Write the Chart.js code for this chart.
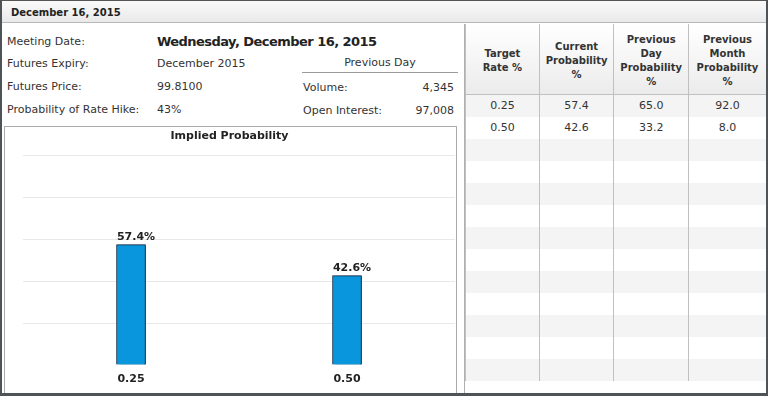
<!DOCTYPE html>
<html>
<head>
<meta charset="utf-8">
<script src="https://cdn.jsdelivr.net/npm/chart.js@4"></script>
<style>
    body { margin: 0; background: #fff; font-family: "DejaVu Sans", Verdana, sans-serif; color: #333; }
    #wrap { position: relative; width: 768px; height: 396px; box-sizing: border-box; border: 1px solid #555; border-left: 2px solid #4d5356; border-bottom: 3px solid #4d5356; border-right: 2px solid #4d5356; overflow: hidden; }
    #head { position: absolute; left: 0; top: 0; width: 766px; height: 22px; border-bottom: 1px solid #b8b8b8; background: linear-gradient(#fafafa, #e9e9e9); font-weight: bold; font-size: 10px; line-height: 24px; padding-left: 9px; box-sizing: border-box; color: #222; }
    .t { position: absolute; font-size: 11px; white-space: nowrap; line-height: 14px; }
    .r { text-align: right; }
    #meet { font-size: 13px; letter-spacing: -0.55px; font-weight: bold; color: #222; line-height: 18px; }
    #prev { position: absolute; left: 300px; top: 55px; width: 156px; height: 16px; border-bottom: 1px solid #9a9a9a; text-align: center; font-size: 11px; line-height: 14px; }
    #left { position: absolute; left: 462px; top: 23px; width: 1px; height: 370px; background: #b0b0b0; }
    #box { position: absolute; left: 2px; top: 125px; width: 453px; height: 270px; border: 1px solid #aaa; border-bottom: none; box-sizing: border-box; }
    #chartBox { position: absolute; left: 2px; top: 127px; width: 452px; height: 264px; }
    #tbl { position: absolute; left: 463px; top: 23px; border-collapse: collapse; font-size: 11px; table-layout: fixed; }
    #tbl th { height: 70px; box-sizing: border-box; padding: 5px 0 0 0; background: linear-gradient(#fff, #ebebeb); border-left: 1px solid #c0c0c0; border-bottom: 1px solid #c0c0c0; font-weight: bold; font-size: 10px; line-height: 14px; color: #333; }
    #tbl td { height: 22px; padding: 0; text-align: center; border-left: 1px solid #c0c0c0; color: #333; }
    #tbl tr:nth-child(odd) td { background: #f4f4f4; }
</style>
</head>
<body>
<div id="wrap">
    <div id="head">December 16, 2015</div>

    <div class="t" style="left:5px;top:34px">Meeting Date:</div>
    <div class="t" id="meet" style="left:155px;top:32px">Wednesday, December 16, 2015</div>
    <div class="t" style="left:5px;top:56px">Futures Expiry:</div>
    <div class="t" style="left:155px;top:56px">December 2015</div>
    <div class="t" style="left:5px;top:79px">Futures Price:</div>
    <div class="t" style="left:155px;top:79px">99.8100</div>
    <div class="t" style="left:5px;top:102px">Probability of Rate Hike:</div>
    <div class="t" style="left:155px;top:102px">43%</div>

    <div id="prev">Previous Day</div>
    <div class="t" style="left:301px;top:80px">Volume:</div>
    <div class="t r" style="left:380px;top:80px;width:72px">4,345</div>
    <div class="t" style="left:301px;top:103px">Open Interest:</div>
    <div class="t r" style="left:380px;top:103px;width:72px">97,008</div>

    <div id="box"></div>
    <div id="chartBox"><canvas id="probChart"></canvas></div>
    <div id="left"></div>

    <table id="tbl">
        <colgroup><col style="width:75px"><col style="width:75px"><col style="width:75px"><col style="width:78px"></colgroup>
        <thead><tr id="hdr"></tr></thead>
        <tbody id="rows"></tbody>
    </table>
</div>
<script>
// data
var targetRates = ['0.25', '0.50'];
var currentProb = [57.4, 42.6];
var prevDayProb = [65.0, 33.2];
var prevMonthProb = [92.0, 8.0];
var columnTitles = ['Target<br>Rate %', 'Current<br>Probability<br>%', 'Previous<br>Day<br>Probability<br>%', 'Previous<br>Month<br>Probability<br>%'];
var yMax = 100;
var yStep = 20;
var emptyRows = 11;

// table
var hdr = document.getElementById('hdr');
columnTitles.forEach(function(t) {
    var th = document.createElement('th');
    th.innerHTML = t;
    hdr.appendChild(th);
});
var rows = document.getElementById('rows');
for (var i = 0; i < targetRates.length + emptyRows; i++) {
    var tr = document.createElement('tr');
    var cells = i < targetRates.length
        ? [targetRates[i], currentProb[i].toFixed(1), prevDayProb[i].toFixed(1), prevMonthProb[i].toFixed(1)]
        : ['', '', '', ''];
    cells.forEach(function(c) {
        var td = document.createElement('td');
        td.textContent = c;
        tr.appendChild(td);
    });
    rows.appendChild(tr);
}

// bar labels + shadow
var barExtras = {
    id: 'barExtras',
    beforeDatasetsDraw: function(chart) {
        var ctx = chart.ctx;
        ctx.save();
        ctx.shadowColor = 'rgba(0,0,0,0.4)';
        ctx.shadowOffsetX = 3;
        ctx.shadowOffsetY = 1;
        ctx.shadowBlur = 2;
    },
    afterDatasetsDraw: function(chart) {
        var ctx = chart.ctx;
        ctx.restore();
        ctx.save();
        ctx.font = 'bold 11px "DejaVu Sans"';
        ctx.fillStyle = '#222';
        ctx.textAlign = 'center';
        ctx.textBaseline = 'bottom';
        chart.getDatasetMeta(0).data.forEach(function(bar, i) {
            ctx.fillText(currentProb[i].toFixed(1) + '%', bar.x + 5, bar.y - 2);
        });
        ctx.restore();
    }
};

var probChart = new Chart(document.getElementById('probChart').getContext('2d'), {
    type: 'bar',
    data: {
        labels: targetRates,
        datasets: [{
            data: currentProb,
            backgroundColor: '#0a96dc',
            borderColor: '#0b2540',
            borderWidth: 1,
            barThickness: 29
        }]
    },
    options: {
        responsive: true,
        maintainAspectRatio: false,
        animation: false,
        layout: { padding: { left: 0, right: 1, top: 0, bottom: 0 } },
        plugins: {
            legend: { display: false },
            tooltip: { enabled: false },
            title: {
                display: true,
                text: 'Implied Probability',
                color: '#222',
                font: { family: 'DejaVu Sans', size: 11, weight: 'bold' },
                padding: { top: 2, bottom: 12 }
            }
        },
        scales: {
            x: {
                grid: { display: false, drawTicks: false },
                border: { display: false },
                ticks: { color: '#222', padding: 8, font: { family: 'DejaVu Sans', size: 11, weight: 'bold' } },
                afterFit: function(s) { s.height = 27; }
            },
            y: {
                min: 0,
                max: yMax,
                ticks: { display: false, stepSize: yStep },
                border: { display: false },
                grid: {
                    drawTicks: false,
                    color: function(c) { return c.tick.value === 0 ? 'rgba(0,0,0,0)' : '#e8e8e8'; }
                },
                afterFit: function(s) { s.width = 19; }
            }
        }
    },
    plugins: [barExtras]
});
</script>
</body>
</html>
